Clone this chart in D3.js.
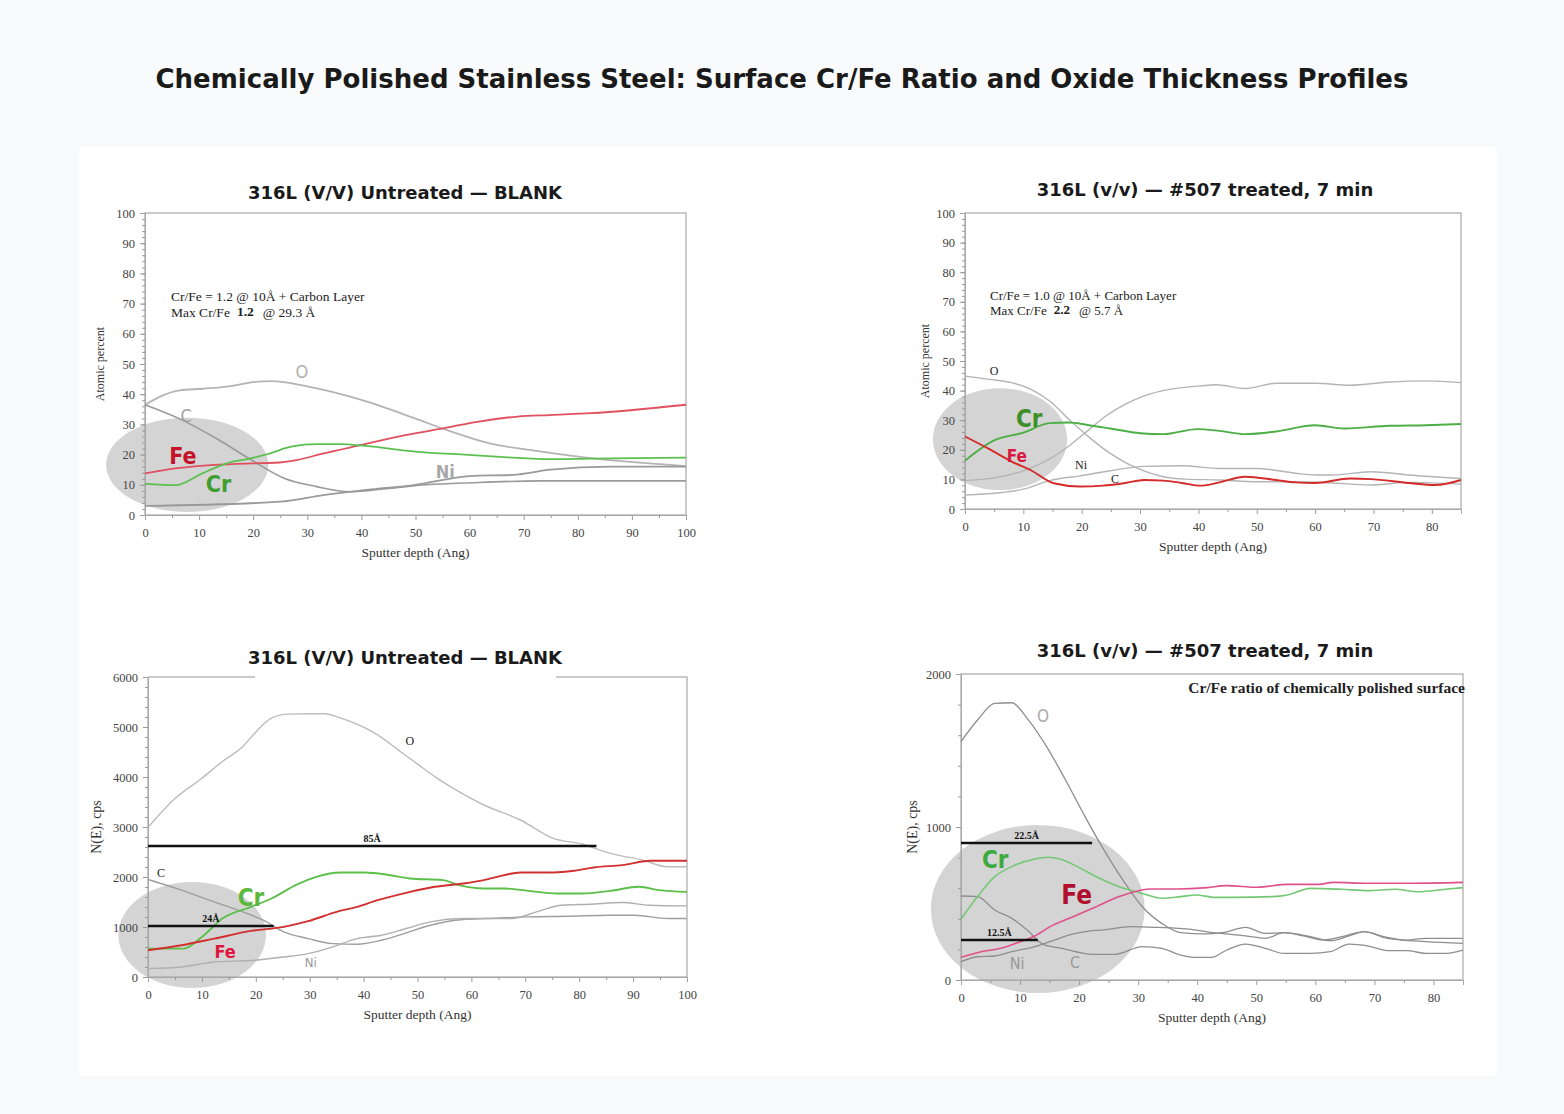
<!DOCTYPE html>
<html>
<head>
<meta charset="utf-8">
<script src="https://cdn.jsdelivr.net/npm/d3@7"></script>
<style>
  html, body { margin: 0; padding: 0; background: #f8fafb; }
  svg { display: block; }
</style>
</head>
<body>
<svg id="chart" width="1564" height="1114"></svg>
<script>
// ---- data ----
const depthTicks100 = [0, 10, 20, 30, 40, 50, 60, 70, 80, 90, 100];
const depthTicks85 = [0, 10, 20, 30, 40, 50, 60, 70, 80];
const pctTicks = [0, 10, 20, 30, 40, 50, 60, 70, 80, 90, 100];
const cpsTicks6000 = [0, 1000, 2000, 3000, 4000, 5000, 6000];
const cpsTicks2000 = [0, 1000, 2000];

// panel 1: untreated, atomic percent
const blankAtO = [[0,36.5],[6.4,41.3],[10.6,41.8],[15.9,42.7],[20.4,44.1],[23.4,44.3],[30.2,42.5],[40,38.1],[49.9,32],[56,28],[63.5,23.8],[73.3,21],[82.4,18.8],[100,16.2]];
const blankAtC = [[0,36.5],[6.8,31.5],[13.6,24.9],[19.7,18.2],[25.7,12.2],[31.7,9.4],[37.8,7.7],[45,8.8],[52,10],[60.5,10.7],[73,11.3],[100,11.3]];
const blankAtNi = [[0,3],[25,4.4],[33,6.6],[41,8.3],[50,10],[60,12.9],[68,13.3],[75,15],[86,16],[100,16]];
const blankAtFe = [[0,13.8],[6,15.5],[12.8,16.6],[19.7,17.1],[24,17.3],[28,18.2],[33,20.4],[40,23.2],[48.4,26.5],[56,29],[60.5,30.6],[68.9,32.6],[74.8,33.1],[82.4,33.7],[100,36.5]];
const blankAtCr = [[0,10.3],[5.7,9.9],[10.6,13.8],[15.1,17.1],[19.7,18.8],[22.7,20.2],[27.2,22.7],[31.7,23.5],[36,23.5],[40.8,22.9],[50,21],[59.7,19.9],[67,19.1],[74.8,18.5],[82.4,18.7],[100,19]];

// panel 2: #507 treated, atomic percent
const treatAtO = [[0,44.9],[4.2,43.8],[8,42.7],[11.3,40.4],[14.5,36.5],[17.8,30.3],[21,24.7],[24.2,19.7],[27.5,15.7],[30.7,12.9],[34,10.9],[37.8,10.1],[43.6,9.8],[50,9.2],[56.6,9.2],[63,8.8],[69.5,8.1],[76,9],[85,8.4]];
const treatAtNi = [[0,9.6],[5.5,10.7],[10,12.9],[14.5,16.9],[17.8,21.3],[21,26.4],[24.2,31.5],[27.5,35.4],[30.7,38.2],[35,40.4],[40.4,41.6],[43,42],[48,40.7],[53.3,42.5],[60,42.5],[66,41.8],[72.7,42.9],[79,43.3],[85,42.7]];
const treatAtC = [[0,4.7],[5.5,5.4],[10,6.7],[14.5,9.6],[19.7,11.2],[24.9,12.9],[30.7,14.4],[37.2,14.6],[43.6,13.7],[50,13.7],[56.6,12.1],[60,11.5],[63,11.5],[69.5,12.6],[76,11.5],[85,10.3]];
const treatAtCr = [[0,16.3],[4.8,23],[10,25.8],[14.5,29],[17.8,29.2],[21,28.4],[24.9,27.2],[30,25.6],[34,25.3],[39.8,27],[43.6,26.4],[48,25.3],[53.3,26.2],[60,28.3],[65,27.2],[72.7,28.1],[79,28.3],[85,28.7]];
const treatAtFe = [[0,24.5],[4.2,20.2],[8,16],[11.3,13.1],[15.2,8.7],[19.7,7.6],[23.6,7.9],[27.5,8.8],[30.7,9.8],[34,9.6],[37.2,8.8],[40.4,7.9],[43.6,9],[48,10.9],[53.3,9.8],[56.6,9],[60,8.8],[66,10.3],[69.5,10.1],[76,8.8],[80.6,8.1],[85,9.8]];

// panel 3: untreated, N(E) counts
const blankCpsO = [[0,2993],[4.7,3540],[10,3975],[13.8,4310],[17.6,4610],[19.8,4877],[22.9,5177],[25.9,5257],[29.7,5264],[32.7,5264],[35.8,5177],[39.5,5023],[42.6,4843],[46.4,4543],[50.2,4242],[53.2,4008],[57.7,3707],[62.3,3440],[69.1,3140],[75.2,2772],[80.5,2659],[85.8,2472],[91.8,2338],[96.4,2204],[100,2204]];
const blankCpsC = [[0,1950],[6.2,1737],[12.3,1503],[17.6,1303],[21.4,1136],[25.2,902],[29.7,768],[34.2,668],[38.8,655],[43.3,735],[47.9,882],[52.4,1035],[58.5,1149],[62.9,1169],[70.5,1202],[78,1216],[85.6,1236],[90.3,1236],[96.4,1169],[100,1169]];
const blankCpsNi = [[0,167],[6.2,200],[12.3,300],[19.8,334],[25.2,400],[29.7,468],[34.2,601],[38.8,768],[43.3,835],[47.9,969],[52.4,1102],[58.5,1169],[62.9,1169],[67.4,1169],[72.7,1323],[76.7,1436],[81.9,1456],[88,1490],[93,1436],[100,1423]];
const blankCpsCr = [[0,568],[6.6,568],[10,802],[13.8,1169],[19.1,1403],[22.9,1570],[27.4,1837],[31.2,2004],[35.8,2091],[40.3,2091],[44.1,2051],[48.6,1971],[54.7,1937],[57.7,1837],[62.3,1770],[66.1,1770],[70.6,1723],[75.9,1670],[80.5,1670],[85.8,1723],[91.1,1804],[94.8,1737],[100,1703]];
const blankCpsFe = [[0,534],[6.2,635],[12.3,768],[19.1,922],[25.2,1002],[29.7,1116],[35,1303],[38.8,1403],[42.6,1536],[47.9,1683],[53.2,1804],[58.5,1870],[62.3,1937],[66.1,2037],[69.1,2091],[75.2,2091],[79,2124],[82.7,2191],[88,2238],[93.3,2325],[100,2325]];

// panel 4: #507 treated, N(E) counts
const treatCpsO = [[0,1558],[2.8,1699],[5.7,1808],[8.6,1812],[11.2,1710],[14.5,1525],[17.7,1307],[21,1068],[24.2,850],[27.4,654],[30.7,479],[34,370],[37.2,309],[41.1,301],[44.3,309],[48.2,344],[51.5,305],[54.7,309],[59.2,283],[62.5,257],[65.7,288],[68.3,316],[72.2,272],[78.7,251],[85,240]];
const treatCpsC = [[0,549],[2.8,545],[5.7,458],[8.6,403],[11.2,327],[13.8,235],[17.1,207],[22.3,168],[26.1,168],[30.7,218],[34,207],[37.2,163],[39.8,148],[42.4,148],[45,196],[48.2,235],[51.5,207],[54.7,174],[59.2,174],[62.5,185],[65.7,235],[69,222],[72.2,192],[75.5,192],[78.7,174],[81.9,174],[85,196]];
const treatCpsNi = [[0,120],[2.8,152],[5.7,157],[8.6,185],[12.5,218],[15.8,261],[19,301],[21.6,320],[24.2,327],[28.7,349],[33.3,344],[38.5,333],[42.8,309],[48.2,288],[51.5,272],[54.7,309],[58,288],[61.2,261],[64.5,283],[68.3,316],[71.6,283],[75.5,261],[78.7,272],[85,272]];
const treatCpsCr = [[0,397],[2.8,545],[5.7,675],[8.6,741],[12.5,791],[14.8,802],[16.7,791],[19.7,741],[22.9,675],[26.8,610],[30.7,566],[34,534],[37.2,545],[39.8,556],[43,540],[46.3,540],[52.8,545],[55.3,556],[59.2,599],[64.4,593],[68.9,584],[73.5,593],[77.4,577],[82,593],[85,604]];
const treatCpsFe = [[0,148],[3.4,185],[6.7,207],[9.3,240],[12.5,288],[15.1,349],[19,414],[22.9,479],[26.8,545],[29.4,577],[32,595],[36.5,595],[41.7,604],[44.9,617],[50.2,606],[55.3,625],[60.5,625],[63.1,638],[68.9,632],[75.5,632],[85,638]];

// oxide thickness markers: [depth from, depth to, level, label]
const blankBars = [[0, 83.2, 2620, "85Å"], [0, 23.3, 1020, "24Å"]];
const treatBars = [[0, 22.2, 895, "22.5Å"], [0, 13.0, 261, "12.5Å"]];

const svg = d3.select("#chart");
const serif = "'Liberation Serif', 'DejaVu Serif', serif";
const sans = "'DejaVu Sans', sans-serif";
const cond = "'DejaVu Sans Condensed', 'DejaVu Sans', sans-serif";

// page title + card
svg.append("rect").attr("x", 79).attr("y", 147).attr("width", 1418).attr("height", 929).attr("fill", "#fff");
svg.append("text").attr("x", 782).attr("y", 88).attr("text-anchor", "middle")
  .attr("font-family", sans).attr("font-weight", "bold").attr("font-size", 26).attr("fill", "#1a1a1a")
  .text("Chemically Polished Stainless Steel: Surface Cr/Fe Ratio and Oxide Thickness Profiles");

function panel(p) {
  const x = d3.scaleLinear().domain(p.xDomain).range(p.xRange);
  const y = d3.scaleLinear().domain(p.yDomain).range(p.yRange);
  const g = svg.append("g");

  // grey highlight ellipse
  const h = p.highlight;
  g.append("ellipse")
    .attr("cx", x(h.cx)).attr("cy", y(h.cy))
    .attr("rx", x(h.cx + h.rx) - x(h.cx)).attr("ry", y(h.cy) - y(h.cy + h.ry))
    .attr("fill", "#cfcfcf").attr("opacity", 0.9);

  // frame
  g.append("rect")
    .attr("x", p.xRange[0]).attr("y", p.yRange[1])
    .attr("width", p.xRange[1] - p.xRange[0]).attr("height", p.yRange[0] - p.yRange[1])
    .attr("fill", "none").attr("stroke", "#a8a8a8").attr("stroke-width", 1.2);

  // axes
  g.append("g").attr("transform", `translate(0,${p.yRange[0]})`)
    .call(d3.axisBottom(x).tickValues(p.xTicks).tickSize(5).tickPadding(8).tickFormat(d3.format("d")));
  g.append("g").attr("transform", `translate(0,${p.yRange[0]})`)
    .call(d3.axisBottom(x).tickValues(d3.range(5, p.xDomain[1], 10)).tickSize(3).tickFormat(""));
  g.append("g").attr("transform", `translate(${p.xRange[0]},0)`)
    .call(d3.axisLeft(y).tickValues(p.yTicks).tickSize(5).tickPadding(5).tickFormat(d3.format("d")));
  g.append("g").attr("transform", `translate(${p.xRange[0]},0)`)
    .call(d3.axisLeft(y).tickValues(d3.range(0, p.yDomain[1], p.yMinor)).tickSize(3).tickFormat(""));
  g.selectAll(".domain").attr("stroke", "#a8a8a8");
  g.selectAll(".tick line").attr("stroke", "#999");
  g.selectAll(".tick text").attr("font-family", serif).attr("font-size", 12.5).attr("fill", "#444");

  // axis titles
  g.append("text").attr("transform", `translate(${p.yLabelX},${(p.yRange[0] + p.yRange[1]) / 2}) rotate(-90)`)
    .attr("text-anchor", "middle").attr("font-family", serif).attr("font-size", p.yLabelSize).attr("fill", "#333")
    .text(p.yLabel);
  g.append("text").attr("x", (p.xRange[0] + p.xRange[1]) / 2).attr("y", p.yRange[0] + 42)
    .attr("text-anchor", "middle").attr("font-family", serif).attr("font-size", 13.5).attr("fill", "#333")
    .text("Sputter depth (Ang)");

  // profiles
  const line = d3.line().x(d => x(d[0])).y(d => y(d[1])).curve(d3.curveMonotoneX);
  p.series.forEach(s => {
    g.append("path").datum(s.data).attr("d", line)
      .attr("fill", "none").attr("stroke", s.color).attr("stroke-width", s.width);
  });

  // thickness bars
  (p.bars || []).forEach(b => {
    g.append("line").attr("x1", x(b[0])).attr("x2", x(b[1])).attr("y1", y(b[2])).attr("y2", y(b[2]))
      .attr("stroke", "#111").attr("stroke-width", 2.5);
    g.append("text").attr("x", x((b[0] + b[1]) / 2)).attr("y", y(b[2]) - 4)
      .attr("text-anchor", "middle").attr("font-family", serif).attr("font-weight", "bold")
      .attr("font-size", 10).attr("fill", "#111").text(b[3]);
  });

  // element labels
  p.labels.forEach(l => {
    g.append("text").attr("x", x(l.x)).attr("y", y(l.y)).attr("dy", "0.35em")
      .attr("text-anchor", "middle").attr("font-family", l.font).attr("font-weight", l.bold ? "bold" : "normal")
      .attr("font-size", l.size).attr("fill", l.color).text(l.text);
  });

  // panel title
  if (p.titleMask) {
    g.append("rect").attr("x", p.titleMask[0]).attr("y", p.yRange[1] - 6)
      .attr("width", p.titleMask[1] - p.titleMask[0]).attr("height", 12).attr("fill", "#fff");
  }
  g.append("text").attr("x", p.titleX).attr("y", p.titleY).attr("text-anchor", "middle")
    .attr("font-family", sans).attr("font-weight", "bold").attr("font-size", 18).attr("fill", "#1a1a1a")
    .text(p.title);

  // note text (parts: [text, bold, gap before])
  (p.notes || []).forEach(n => {
    const t = g.append("text").attr("x", n.x).attr("y", n.y).attr("font-family", serif)
      .attr("font-size", n.size).attr("fill", "#222").attr("text-anchor", n.anchor || "start")
      .attr("font-weight", n.bold ? "bold" : "normal");
    n.parts.forEach(pt => t.append("tspan").attr("font-weight", pt[1] ? "bold" : null)
      .attr("dx", pt[2] || null).attr("dy", pt[3] || null).text(pt[0]));
  });
  return { x, y };
}

const grayA = "#b4b4b4", grayB = "#9a9a9a";

panel({
  title: "316L (V/V) Untreated — BLANK", titleX: 405, titleY: 199,
  xDomain: [0, 100], xRange: [145, 686], yDomain: [0, 100], yRange: [515, 213],
  xTicks: depthTicks100, yTicks: pctTicks, yMinor: 2,
  yLabel: "Atomic percent", yLabelX: 104, yLabelSize: 12,
  highlight: { cx: 7.8, cy: 16.6, rx: 15, ry: 15.6 },
  series: [
    { data: blankAtO, color: grayA, width: 1.8 },
    { data: blankAtC, color: grayB, width: 1.6 },
    { data: blankAtNi, color: grayB, width: 1.8 },
    { data: blankAtFe, color: "#e0505e", width: 1.8 },
    { data: blankAtCr, color: "#5cc050", width: 1.8 }
  ],
  labels: [
    { text: "O", x: 29, y: 47.4, font: cond, size: 18, color: "#b0b0b0" },
    { text: "C", x: 7.6, y: 32.8, font: cond, size: 18, color: "#a0a0a0" },
    { text: "Fe", x: 7.0, y: 19.5, font: cond, size: 23, color: "#c4142c", bold: true },
    { text: "Cr", x: 13.6, y: 10.3, font: cond, size: 23, color: "#3f9e2e", bold: true },
    { text: "Ni", x: 55.5, y: 14.2, font: cond, size: 18, color: "#a8a8a8", bold: true }
  ],
  notes: [
    { x: 171, y: 301, size: 13.5, parts: [["Cr/Fe = 1.2 @ 10Å + Carbon Layer"]] },
    { x: 171, y: 317, size: 13.5, parts: [["Max Cr/Fe"], ["1.2", true, 7, -1], ["@ 29.3 Å", false, 9, 1]] }
  ]
});

panel({
  title: "316L (v/v) — #507 treated, 7 min", titleX: 1205, titleY: 196,
  xDomain: [0, 85], xRange: [965, 1461], yDomain: [0, 100], yRange: [509, 213],
  xTicks: depthTicks85, yTicks: pctTicks, yMinor: 2,
  yLabel: "Atomic percent", yLabelX: 929, yLabelSize: 12,
  highlight: { cx: 6.0, cy: 23.6, rx: 11.5, ry: 17.2 },
  series: [
    { data: treatAtO, color: grayA, width: 1.4 },
    { data: treatAtNi, color: grayA, width: 1.4 },
    { data: treatAtC, color: grayA, width: 1.4 },
    { data: treatAtCr, color: "#4eae46", width: 1.9 },
    { data: treatAtFe, color: "#d42a2a", width: 1.9 }
  ],
  labels: [
    { text: "O", x: 5.0, y: 46.6, font: serif, size: 12, color: "#222" },
    { text: "Ni", x: 19.9, y: 14.9, font: serif, size: 12, color: "#222" },
    { text: "C", x: 25.7, y: 10.1, font: serif, size: 12, color: "#222" },
    { text: "Cr", x: 11.0, y: 30.4, font: cond, size: 24, color: "#3d8f26", bold: true },
    { text: "Fe", x: 8.9, y: 17.9, font: cond, size: 17, color: "#d8183c", bold: true }
  ],
  notes: [
    { x: 990, y: 300, size: 13, parts: [["Cr/Fe = 1.0 @ 10Å + Carbon Layer"]] },
    { x: 990, y: 315, size: 13, parts: [["Max Cr/Fe"], ["2.2", true, 7, -1], ["@ 5.7 Å", false, 9, 1]] }
  ]
});

panel({
  title: "316L (V/V) Untreated — BLANK", titleX: 405, titleY: 664, titleMask: [255, 556],
  xDomain: [0, 100], xRange: [148, 687], yDomain: [0, 6000], yRange: [977, 677],
  xTicks: depthTicks100, yTicks: cpsTicks6000, yMinor: 200,
  yLabel: "N(E), cps", yLabelX: 101, yLabelSize: 14,
  highlight: { cx: 8.2, cy: 840, rx: 13.7, ry: 1060 },
  bars: blankBars,
  series: [
    { data: blankCpsO, color: "#bcbcbc", width: 1.4 },
    { data: blankCpsC, color: "#9e9e9e", width: 1.4 },
    { data: blankCpsNi, color: "#b0b0b0", width: 1.4 },
    { data: blankCpsCr, color: "#5cbf48", width: 1.9 },
    { data: blankCpsFe, color: "#d23030", width: 1.9 }
  ],
  labels: [
    { text: "O", x: 48.6, y: 4720, font: serif, size: 12, color: "#222" },
    { text: "C", x: 2.4, y: 2080, font: serif, size: 12, color: "#222" },
    { text: "Ni", x: 30.2, y: 300, font: cond, size: 13, color: "#999" },
    { text: "Cr", x: 19.1, y: 1580, font: cond, size: 24, color: "#5cb83c", bold: true },
    { text: "Fe", x: 14.3, y: 500, font: cond, size: 18, color: "#e0163e", bold: true }
  ]
});

panel({
  title: "316L (v/v) — #507 treated, 7 min", titleX: 1205, titleY: 657,
  xDomain: [0, 85], xRange: [961, 1463], yDomain: [0, 2000], yRange: [980, 674],
  xTicks: depthTicks85, yTicks: cpsTicks2000, yMinor: 200,
  yLabel: "N(E), cps", yLabelX: 917, yLabelSize: 14,
  highlight: { cx: 13.0, cy: 464, rx: 18.1, ry: 549 },
  bars: treatBars,
  series: [
    { data: treatCpsO, color: "#8e8e8e", width: 1.3 },
    { data: treatCpsC, color: "#8e8e8e", width: 1.3 },
    { data: treatCpsNi, color: "#8e8e8e", width: 1.3 },
    { data: treatCpsCr, color: "#74c874", width: 1.6 },
    { data: treatCpsFe, color: "#e0508a", width: 1.6 }
  ],
  labels: [
    { text: "O", x: 13.9, y: 1725, font: cond, size: 17, color: "#aaa" },
    { text: "Cr", x: 5.8, y: 784, font: cond, size: 24, color: "#3daa3d", bold: true },
    { text: "Fe", x: 19.6, y: 556, font: cond, size: 26, color: "#b0102e", bold: true },
    { text: "Ni", x: 9.5, y: 111, font: cond, size: 16, color: "#999" },
    { text: "C", x: 19.3, y: 118, font: cond, size: 16, color: "#999" }
  ],
  notes: [
    { x: 1465, y: 693, size: 15.5, anchor: "end", bold: true, parts: [["Cr/Fe ratio of chemically polished surface"]] }
  ]
});
</script>
</body>
</html>
